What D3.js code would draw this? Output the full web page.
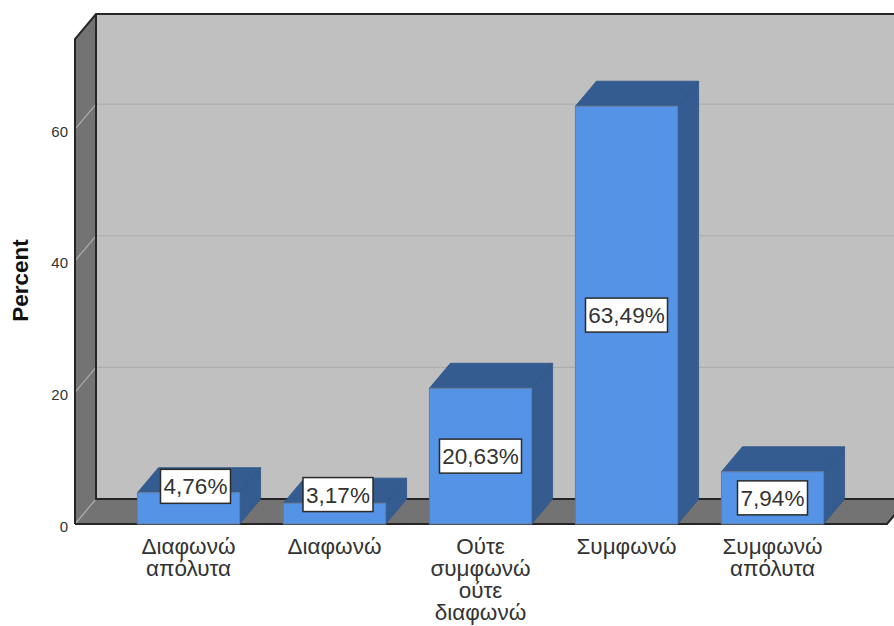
<!DOCTYPE html>
<html>
<head>
<meta charset="utf-8">
<script src="https://cdn.jsdelivr.net/npm/d3@7"></script>
<style>
html,body{margin:0;padding:0;background:#fff;overflow:hidden}
svg{display:block}
text{font-family:"Liberation Sans",Arial,sans-serif}
</style>
</head>
<body>
<svg id="chart" width="894" height="626"></svg>
<script>
// Survey response shares
const categories = ["Διαφωνώ απόλυτα", "Διαφωνώ", "Ούτε συμφωνώ ούτε διαφωνώ", "Συμφωνώ", "Συμφωνώ απόλυτα"];
const categoryLines = [["Διαφωνώ", "απόλυτα"], ["Διαφωνώ"], ["Ούτε", "συμφωνώ", "ούτε", "διαφωνώ"], ["Συμφωνώ"], ["Συμφωνώ", "απόλυτα"]];
const percents = [4.76, 3.17, 20.63, 63.49, 7.94];
const yTicks = [0, 20, 40, 60];
const yTitle = "Percent";

const svg = d3.select("#chart");
const pageW = 894;

// Front plane of the box and the oblique depth vector
const plotL = 75, plotR = 887, plotB = 524, plotT = 39;
const depthX = 21, depthY = -25;

const y = d3.scaleLinear().domain([0, 73.7]).range([plotB, plotT]);
const x = d3.scaleBand().domain(categories).range([plotL - 0.5, plotR - 0.5]).paddingInner(0.3).paddingOuter(0.4308);

const colors = {wall: "#c0c0c0", side: "#737373", floor: "#737373", grid: "#adadad", edge: "#262626",
  front: "#5493e6", shade: "#345c91", shadeEdge: "#2f5486", barEdge: "#6a7d99"};

const poly = pts => pts.map(p => p.join(",")).join(" ");

// Back wall, left wall and floor
svg.append("polygon").attr("fill", colors.wall)
  .attr("points", poly([[plotL + depthX, plotT + depthY], [pageW + 30, plotT + depthY], [pageW + 30, plotB + depthY], [plotL + depthX, plotB + depthY]]));
svg.append("polygon").attr("fill", colors.side)
  .attr("points", poly([[plotL, plotT], [plotL + depthX, plotT + depthY], [plotL + depthX, plotB + depthY], [plotL, plotB]]));
svg.append("polygon").attr("fill", colors.floor)
  .attr("points", poly([[plotL, plotB], [plotL + depthX, plotB + depthY], [plotR + depthX, plotB + depthY], [plotR, plotB]]));

// Gridlines run across the back wall and fold down the left wall
const grid = svg.append("g").attr("fill", "none").attr("stroke", colors.grid).attr("stroke-width", 1.2);
yTicks.forEach(t => {
  const py = y(t);
  if (t > 0) grid.append("line").attr("x1", plotL + depthX).attr("x2", pageW).attr("y1", py + depthY).attr("y2", py + depthY);
  grid.append("line").attr("x1", plotL).attr("x2", plotL + depthX).attr("y1", py).attr("y2", py + depthY);
});

// Box edges
const edges = svg.append("g").attr("fill", "none").attr("stroke", colors.edge).attr("stroke-width", 2);
edges.append("polyline").attr("points", poly([[plotL, plotB], [plotL, plotT], [plotL + depthX, plotT + depthY], [pageW + 2, plotT + depthY]]));
edges.append("polyline").attr("points", poly([[plotL + depthX, plotT + depthY], [plotL + depthX, plotB + depthY], [pageW + 2, plotB + depthY]]));
edges.append("polyline").attr("points", poly([[plotL, plotB], [plotR, plotB], [plotR + depthX, plotB + depthY]]));

// Bars: side and top faces behind the front face
const bars = svg.append("g").selectAll("g").data(percents).join("g");
const bx = i => x(categories[i]);
const bw = x.bandwidth();
bars.append("polygon").attr("fill", colors.shade).attr("stroke", colors.shadeEdge).attr("stroke-width", 0.8)
  .attr("points", (d, i) => poly([[bx(i) + bw, y(d)], [bx(i) + bw + depthX, y(d) + depthY], [bx(i) + bw + depthX, plotB + depthY], [bx(i) + bw, plotB]]));
bars.append("polygon").attr("fill", colors.shade).attr("stroke", colors.shadeEdge).attr("stroke-width", 0.8)
  .attr("points", (d, i) => poly([[bx(i), y(d)], [bx(i) + depthX, y(d) + depthY], [bx(i) + bw + depthX, y(d) + depthY], [bx(i) + bw, y(d)]]));
bars.append("rect").attr("fill", colors.front).attr("stroke", colors.barEdge).attr("stroke-width", 1)
  .attr("x", (d, i) => bx(i)).attr("y", d => y(d)).attr("width", bw).attr("height", d => plotB - y(d));

// Value labels in white boxes; short bars push theirs up and to the right
const fmt = d3.formatLocale({decimal: ",", thousands: ".", grouping: [3], currency: ["", ""]}).format(".2f");
const labelNudge = [[7, -22], [3.5, -19], [0, 0], [0, 0], [0, 0]];
const labels = svg.append("g").selectAll("g").data(percents).join("g")
  .attr("transform", (d, i) => `translate(${bx(i) + bw / 2 + labelNudge[i][0]},${(y(d) + plotB) / 2 + labelNudge[i][1]})`);
labels.append("rect").attr("y", -17).attr("height", 34)
  .attr("fill", "#fff").attr("stroke", "#2b2b2b").attr("stroke-width", 1.5)
  .attr("x", d => d >= 10 ? -41 : -35).attr("width", d => d >= 10 ? 82 : 70);
labels.append("text").attr("text-anchor", "middle").attr("dy", "0.36em").attr("font-size", 22.5).attr("fill", "#333")
  .text(d => fmt(d) + "%");

// Value axis: labels only
const yAxis = svg.append("g").attr("transform", `translate(${plotL - 7},0)`)
  .call(d3.axisLeft(y).tickValues(yTicks).tickSize(0).tickPadding(0));
yAxis.select(".domain").remove();
yAxis.selectAll("text").attr("font-size", 15).attr("font-family", '"Liberation Sans",Arial,sans-serif').attr("fill", "#333").attr("dy", "0.48em");

svg.append("text").attr("transform", "translate(27.5,280.5) rotate(-90)").attr("text-anchor", "middle")
  .attr("font-size", 22.5).attr("font-weight", "bold").attr("fill", "#111").text(yTitle);

// Category labels, wrapped
const cats = svg.append("g").selectAll("text").data(categoryLines).join("text")
  .attr("text-anchor", "middle").attr("font-size", 22.5).attr("fill", "#333");
cats.selectAll("tspan").data(d => d).join("tspan")
  .attr("y", (d, i) => 554 + i * 22)
  .text(d => d);
cats.each(function(d, i) {
  d3.select(this).selectAll("tspan").attr("x", x(categories[i]) + bw / 2);
});
</script>
</body>
</html>
